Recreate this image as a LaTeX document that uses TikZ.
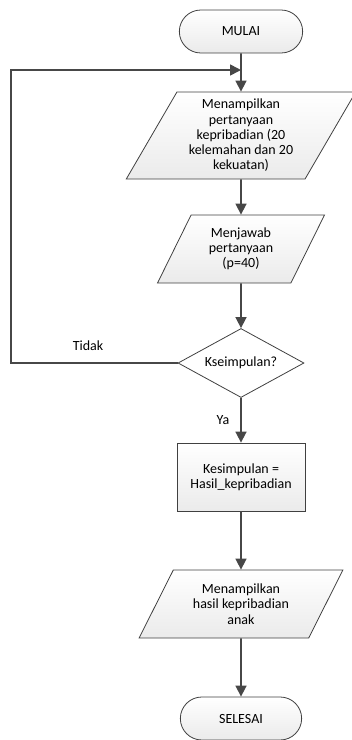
\documentclass[tikz,border=0pt]{standalone}
\usepackage{fontspec}
\setmainfont{Carlito}
\usetikzlibrary{shapes.geometric,shapes.misc,arrows.meta}

\begin{document}
\begin{tikzpicture}[x=1pt, y=-1pt, every node/.style={draw=black!75, line width=.8pt, align=center, font=\fontsize{14}{15.2}\selectfont},%
        terminal/.style={rounded rectangle, minimum width=130pt, minimum height=43pt, top color=white, bottom color=black!8},
        io/.style={trapezium, trapezium left angle=61, trapezium right angle=119, trapezium stretches=true, top color=white, bottom color=black!8},
        proc/.style={rectangle, minimum width=128pt, minimum height=68pt, top color=white, bottom color=black!8},
        decision/.style={diamond, aspect=1.83, inner sep=0pt, minimum width=126pt, minimum height=69pt, fill=white},
        ket/.style={draw=none, fill=none},
        conn/.style={line width=1.6pt, draw=black!72, -{Triangle[length=11pt,width=11pt]}}]
        \useasboundingbox (0,0) rectangle (352,740);
        \node[terminal] (mulai) at (241,31.5) {MULAI};
        \node[io, minimum width=230pt, minimum height=87pt] (tanya) at (241,135.5) {Menampilkan\\pertanyaan\\kepribadian (20\\kelemahan dan 20\\kekuatan)};
        \node[io, trapezium left angle=64, trapezium right angle=116, minimum width=167pt, minimum height=68pt] (jawab) at (241,249) {Menjawab\\pertanyaan\\(p=40)};
        \node[decision] (cek) at (241,363) {Kseimpulan?};
        \node[proc] (hasil) at (241,477) {Kesimpulan =\\Hasil\_kepribadian};
        \node[io, minimum width=204pt, minimum height=68pt] (tampil) at (241,604) {Menampilkan\\hasil kepribadian\\anak};
        \node[terminal, minimum width=128pt] (selesai) at (241,718.5) {SELESAI};
        \node[ket] (tidak) at (88,346) {Tidak};
        \coordinate (join) at (241,70);
        \coordinate (back) at (11,70);
        % alur utama
        \draw[conn] (mulai) -- (tanya);
        \draw[conn] (tanya) -- (jawab);
        \draw[conn] (jawab) -- (cek);
        \draw[conn] (cek) -- node[ket, left=8pt] {Ya} (hasil);
        \draw[conn] (hasil) -- (tampil);
        \draw[conn] (tampil) -- (selesai);
        % kembali jika tidak
        \draw[conn] (cek.west) -| (back) -- (join);
\end{tikzpicture}
\end{document}
